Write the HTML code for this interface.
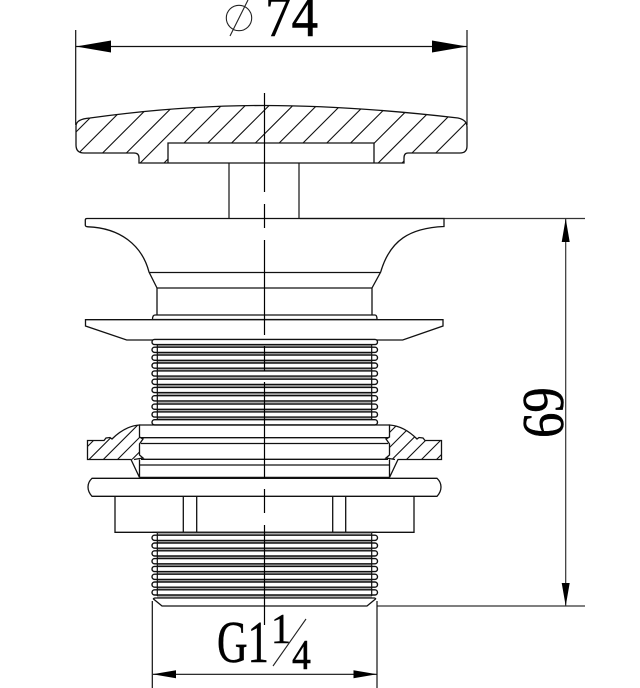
<!DOCTYPE html>
<html>
<head>
<meta charset="utf-8">
<style>
html,body{margin:0;padding:0;background:#fff;width:640px;height:688px;overflow:hidden;}
svg{display:block;}
text{font-family:"Liberation Serif",serif;fill:#000;stroke:#000;stroke-width:.5;}
</style>
</head>
<body>
<svg width="640" height="688" viewBox="0 0 640 688" xmlns="http://www.w3.org/2000/svg">
<defs>
<clipPath id="capc"><path d="M76 126 Q76 119 90 118 Q180 105.500 264 105.500 Q350 105.500 458 118 Q467 120 467 127 V146 Q467 153 460 153 H408 Q404 153 404 158 V163 H374 V143 H168 V163 H139 V158 Q139 153 134 153 H84 Q76 153 76 145 Z"/></clipPath>
<clipPath id="nl"><path d="M87.500 440.500 H104 L106 438 L110 437.500 L112 439 Q125 426 139.500 425 V437 L143 439 L139.500 444 V455 L143 458 L134 459.500 H87.500 Z"/></clipPath>
<clipPath id="nr"><path d="M441.500 440.500 H425 L423 438 L419 437.500 L417 439 Q404 426 389.500 425 V437 L386 439 L389.500 444 V455 L386 458 L395 459.500 H441.500 Z"/></clipPath>
<g id="ring"><rect x="152" y="-2.600" width="225.500" height="5.200" rx="2.600" fill="#fff" stroke="#111" stroke-width="1.400"/></g>
<g id="gap"><rect x="157" y="0" width="215" height="3" fill="#aaa"/></g>
</defs>

<g fill="none" stroke="#111" stroke-width="1.200">
<path d="M75.700 30 V125 M467 30 V125 M76 46.500 H467"/>
<path d="M300 218.500 H585 M377 606 H585 M565.700 218 V606" stroke="#333"/>
<path d="M152.300 601 V688 M377 601 V688 M153 674.300 H377"/>
</g>
<g fill="#000">
<path d="M76 46.500 L111 40.500 V52.500 Z"/>
<path d="M467 46.500 L432 40.500 V52.500 Z"/>
<path d="M565.700 218.500 L561.700 242 H569.700 Z"/>
<path d="M565.700 606 L561.700 583 H569.700 Z"/>
<path d="M152.500 674.300 L176 670.300 V678.300 Z"/>
<path d="M377 674.300 L353.500 670.300 V678.300 Z"/>
</g>

<g clip-path="url(#capc)" stroke="#111" stroke-width="1.100">
<path d="M108 100 L38 170 M131.800 100 L61.800 170 M155.600 100 L85.600 170 M179.400 100 L109.400 170 M203.200 100 L133.200 170 M227 100 L157 170 M250.800 100 L180.800 170 M274.600 100 L204.600 170 M298.400 100 L228.400 170 M322.200 100 L252.200 170 M346 100 L276 170 M369.800 100 L299.800 170 M393.600 100 L323.600 170 M417.400 100 L347.400 170 M441.200 100 L371.200 170 M465 100 L395 170 M488.800 100 L418.800 170"/>
</g>
<path fill="none" stroke="#111" stroke-width="1.300" d="M76 126 Q76 119 90 118 Q180 105.500 264 105.500 Q350 105.500 458 118 Q467 120 467 127 V146 Q467 153 460 153 H408 Q404 153 404 158 V163 H139 V158 Q139 153 134 153 H84 Q76 153 76 145 Z M168 163 V143 H374 V163"/>
<path fill="none" stroke="#111" stroke-width="1.200" d="M229 163 V218.500 M299 163 V218.500"/>

<path fill="none" stroke="#111" stroke-width="1.300" d="M85.300 220 Q85.300 218.500 87 218.500 H444 V226.500 C410 228 390 240 380.700 272 L372 288 V315 M85.300 220 V225 Q85.300 226.700 88 226.800 C120 228 142 245 149 272 L157 288 V315 M149 272.500 H380.700 M157 288 H372"/>
<path fill="#fff" stroke="#111" stroke-width="1.300" d="M155 315 H375 Q377 315 377 319.500 H152.500 Q152.500 315 155 315 Z"/>
<path fill="#fff" stroke="#111" stroke-width="1.300" d="M85.500 319.700 H443 V326 L402.700 340 H126.700 L85.500 326 Z"/>

<g>
<use href="#gap" y="344.500"/><use href="#gap" y="352.500"/><use href="#gap" y="360.300"/><use href="#gap" y="368.300"/><use href="#gap" y="376.500"/><use href="#gap" y="385"/><use href="#gap" y="393"/><use href="#gap" y="401.300"/><use href="#gap" y="409.300"/><use href="#gap" y="417"/>
<use href="#ring" y="342"/><use href="#ring" y="349.800"/><use href="#ring" y="357.700"/><use href="#ring" y="365.600"/><use href="#ring" y="373.500"/><use href="#ring" y="381.800"/><use href="#ring" y="390"/><use href="#ring" y="398.300"/><use href="#ring" y="406.700"/><use href="#ring" y="414.500"/><use href="#ring" y="422.300"/>
</g>
<path stroke="#111" stroke-width="1.200" d="M157.300 345 V420 M371.700 345 V420" fill="none"/>

<g clip-path="url(#nl)" stroke="#111" stroke-width="1.100">
<path d="M114 420 L69 465 M128.500 420 L83.500 465 M142.800 420 L97.800 465 M157 420 L112 465 M171.500 420 L126.500 465"/>
</g>
<g clip-path="url(#nr)" stroke="#111" stroke-width="1.100">
<path d="M402 420 L357 465 M417 420 L372 465 M431.500 420 L386.500 465 M446 420 L401 465 M461 420 L416 465 M476 420 L431 465 M490.500 420 L445.500 465"/>
</g>
<g fill="none" stroke="#111" stroke-width="1.300">
<path d="M139.500 477.500 L131 459.500 H87.500 V440.500 H104 L106 438 L110 437.500 L112 439 Q125 426 139.500 425 V437 L143 439 L139.500 444 V455 L143 458 L134 459.500 M139.500 459.500 V477.500"/>
<path d="M389.500 477.500 L398 459.500 H441.500 V440.500 H425 L423 438 L419 437.500 L417 439 Q404 426 389.500 425 V437 L386 439 L389.500 444 V455 L386 458 L395 459.500 M389.500 459.500 V477.500"/>
<path d="M139.500 425 H389.500 M141 437.700 H388 M141 443.500 H388 M141 459.300 H388"/>
<path d="M140 465 H389"/>
<path d="M139.500 477.700 H389.500" stroke-width="1.900"/>
</g>

<path fill="#fff" stroke="#111" stroke-width="1.300" d="M92 478.300 H437 Q441 482 441 487 Q441 492 437 496.300 H92 Q88 492 88 487 Q88 482 92 478.300 Z"/>
<path fill="none" stroke="#111" stroke-width="1.300" d="M115 496.300 V532.300 H414 V496.300 M183.300 496.300 V532.300 M196.700 496.300 V532.300 M332.700 496.300 V532.300 M345.700 496.300 V532.300"/>

<g>
<use href="#gap" y="532.500"/><use href="#gap" y="540.500"/><use href="#gap" y="548"/><use href="#gap" y="556"/><use href="#gap" y="564"/><use href="#gap" y="571.800"/><use href="#gap" y="579.800"/><use href="#gap" y="587.500"/><use href="#gap" y="595.500"/>
<use href="#ring" y="537.800"/><use href="#ring" y="545.600"/><use href="#ring" y="553.400"/><use href="#ring" y="561.200"/><use href="#ring" y="569"/><use href="#ring" y="576.800"/><use href="#ring" y="584.600"/><use href="#ring" y="592.400"/>
</g>
<path fill="#fff" stroke="#111" stroke-width="1.300" d="M155 598 H374.500 Q376 598.500 375.500 599 L367 606 H162 L153.500 599 Q153 598.500 155 598 Z"/>
<path stroke="#111" stroke-width="1.200" d="M157.300 533 V596 M371.700 533 V596 M152.500 532.300 H377" fill="none"/>

<path fill="none" stroke="#000" stroke-width="1.200" d="M264.500 93 V192 M264.500 204 V228 M264.500 240 V335 M264.500 346 V371 M264.500 382 V478 M264.500 489 V513 M264.500 525 V625"/>

<circle cx="239" cy="18" r="12.700" fill="none" stroke="#222" stroke-width="1.100"/>
<path d="M230 36 L248 0" stroke="#222" stroke-width="1.100" fill="none"/>
<text transform="translate(265 36) scale(.9 1)" font-size="59">74</text>
<text transform="translate(563 438) rotate(-90) scale(.86 1)" font-size="59">69</text>
<text transform="translate(217 662) scale(.72 1)" font-size="59">G1</text>
<text transform="translate(271 643) scale(.95 1)" font-size="42">1</text>
<text transform="translate(292 669) scale(.9 1)" font-size="42">4</text>
<path d="M273 666 L306 619" stroke="#222" stroke-width="1.100" fill="none"/>
</svg>
</body>
</html>
